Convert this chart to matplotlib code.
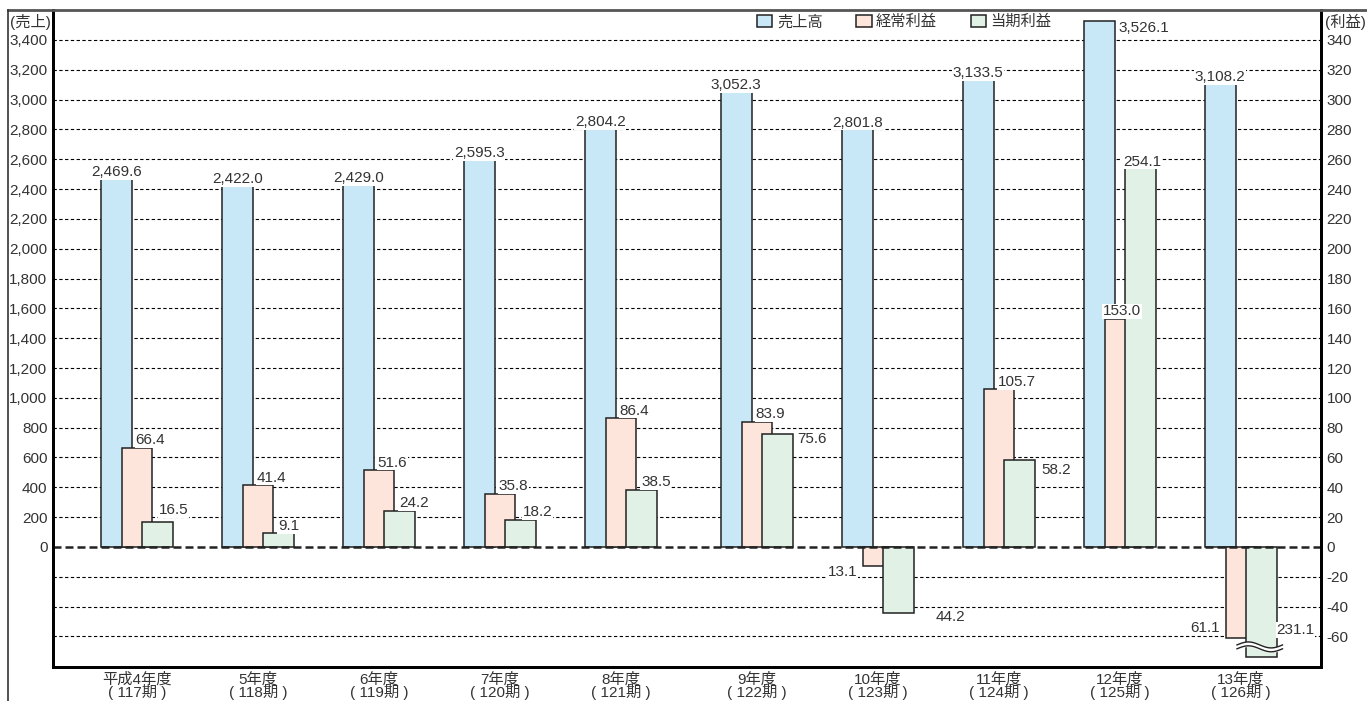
import numpy as np
import matplotlib.pyplot as plt
from matplotlib.patches import Patch
from matplotlib.lines import Line2D

plt.rcParams['font.family'] = ['Liberation Sans', 'Noto Sans CJK JP']
plt.rcParams['font.size'] = 11
plt.rcParams['text.color'] = '#333333'

# data
years = ['平成4年度', '5年度', '6年度', '7年度', '8年度',
         '9年度', '10年度', '11年度', '12年度', '13年度']
periods = ['117期', '118期', '119期', '120期', '121期',
           '122期', '123期', '124期', '125期', '126期']
sales = [2469.6, 2422.0, 2429.0, 2595.3, 2804.2,
         3052.3, 2801.8, 3133.5, 3526.1, 3108.2]
ordinary = [66.4, 41.4, 51.6, 35.8, 86.4, 83.9, -13.1, 105.7, 153.0, -61.1]
net = [16.5, 9.1, 24.2, 18.2, 38.5, 75.6, -44.2, 58.2, 254.1, -231.1]

left_ticks = np.arange(0, 3401, 200)
right_ticks = np.arange(-60, 341, 20)

# layout (x in pixel-like units of the plot area)
group_x = np.array([137, 258, 379, 500, 621, 757, 878, 999, 1120, 1241])
bar_w = 30.5
scale = 10          # 利益 axis -> 売上 axis
floor = -740        # where the broken bar is cut

colors = {'sales': '#C8E8F8', 'ordinary': '#FDE5DB', 'net': '#E2F1E5'}
names = {'sales': '売上高', 'ordinary': '経常利益', 'net': '当期利益'}
shift = {'sales': -36, 'ordinary': -15.3, 'net': 5}

# label placement: (anchor, ha, dx, dy) in pixels
label_default = {'sales': ('center', 'center', 0, 2.5),
                 'ordinary': ('left', 'left', 14, 3.5),
                 'net': ('left', 'left', 15, 3.5)}
label_special = {
    ('sales', 8): ('right', 'left', 4, -10.5),
    ('ordinary', 6): ('left', 'right', -5, -9.5),
    ('ordinary', 8): ('left', 'left', -2, 3.5),
    ('ordinary', 9): ('left', 'right', -6, 6.5),
    ('net', 0): ('left', 'left', 17, 8.5),
    ('net', 3): ('left', 'left', 18, 3.5),
    ('net', 5): ('right', 'left', 5, -8.5),
    ('net', 6): ('right', 'left', 22, -8.5),
    ('net', 7): ('right', 'left', 7, -13.5),
    ('net', 8): ('left', 'left', -2, 2.5),
    ('net', 9): ('right', 'left', 0, 23.5),
}

fig = plt.figure(figsize=(13.67, 7.01), dpi=100)
ax = fig.add_axes([53 / 1367, 34 / 701, 1268 / 1367, 657 / 701])
ax.set_xlim(53, 1321)
ax.set_ylim(-805, 3601)

# grid
for v in np.arange(-600, 3401, 200):
    if v == 0:
        continue
    ax.axhline(v, color='black', lw=0.8, ls=(0, (3, 2.2)), zorder=1)
ax.axhline(0, color='#222222', lw=1.8, ls=(0, (3.2, 1.6)), zorder=6)

series = {'sales': np.array(sales),
          'ordinary': np.array(ordinary) * scale,
          'net': np.array(net) * scale}
raw = {'sales': sales, 'ordinary': ordinary, 'net': net}

for key in ['sales', 'ordinary', 'net']:
    vals = np.maximum(series[key], floor)
    lefts = group_x + shift[key]
    ax.bar(lefts, vals, width=bar_w, align='edge', color=colors[key],
           edgecolor='#222222', lw=1.1, zorder=3)
    for i, v in enumerate(vals):
        anchor, ha, dx, dy = label_special.get((key, i), label_default[key])
        x0 = lefts[i] + {'left': 0, 'center': bar_w / 2, 'right': bar_w}[anchor]
        r = raw[key][i]
        txt = f'{abs(r):,.1f}'
        ax.annotate(txt, xy=(x0, v), xytext=(dx, dy), textcoords='offset pixels',
                    ha=ha, va='baseline', fontsize=11, color='#333333', zorder=7,
                    bbox=dict(boxstyle='square,pad=0.05', fc='white', ec='none'))

# break mark on the cut bar
for i, v in enumerate(series['net']):
    if v < floor:
        x0 = group_x[i] + shift['net']
        xs = np.linspace(x0 - 9, x0 + bar_w + 6, 60)
        t = (xs - xs[0]) / (xs[-1] - xs[0])
        y1 = -657 + 20 * np.sin(2 * np.pi * t)
        y2 = y1 - 26
        ax.fill_between(xs, y2, y1, color='white', zorder=4)
        ax.plot(xs, y1, color='#222222', lw=1.0, zorder=5)
        ax.plot(xs, y2, color='#222222', lw=1.0, zorder=5)

# axes
ax.set_xticks(group_x)
ax.set_xticklabels([f'{y}\n( {p} )' for y, p in zip(years, periods)],
                   linespacing=0.85)
ax.set_yticks(left_ticks)
ax.set_yticklabels([f'{v:,}' for v in left_ticks])
ax.tick_params(axis='both', length=0, labelsize=11, labelcolor='#333333')
ax.tick_params(axis='x', pad=3.5)
ax.tick_params(axis='y', pad=4)

ax2 = ax.twinx()
ax2.set_ylim(-805 / scale, 3601 / scale)
ax2.set_yticks(right_ticks)
ax2.set_yticklabels([f'{v}' for v in right_ticks])
ax2.tick_params(axis='y', length=0, labelsize=11, labelcolor='#333333', pad=4)

for a in (ax, ax2):
    a.spines['top'].set_visible(False)
    for s in ('left', 'right', 'bottom'):
        a.spines[s].set_linewidth(2.0)
        a.spines[s].set_color('black')

ax.text(-0.034, 1 - 12 / 657, '(売上)', transform=ax.transAxes,
        ha='left', va='center', fontsize=11)
ax.text(1.003, 1 - 12 / 657, '(利益)', transform=ax.transAxes,
        ha='left', va='center', fontsize=11)

handles = [Patch(facecolor=colors[k], edgecolor='#222222', lw=1.1, label=names[k])
           for k in ['sales', 'ordinary', 'net']]
ax.legend(handles=handles, loc='center left', ncol=3, frameon=False,
          bbox_to_anchor=((757 - 53) / 1268, 1 - 12 / 657), borderaxespad=0,
          borderpad=0, handlelength=1.0, handleheight=0.9, handletextpad=0.3,
          columnspacing=2.2, fontsize=11)

# outer frame lines
fig.add_artist(Line2D([8 / 1367, 1], [1 - 10 / 701] * 2, color='#555555',
                      lw=2.0, transform=fig.transFigure))
fig.add_artist(Line2D([8 / 1367] * 2, [0, 1 - 10 / 701], color='#333333',
                      lw=1.2, transform=fig.transFigure))

fig.savefig('out.png', dpi=100)
